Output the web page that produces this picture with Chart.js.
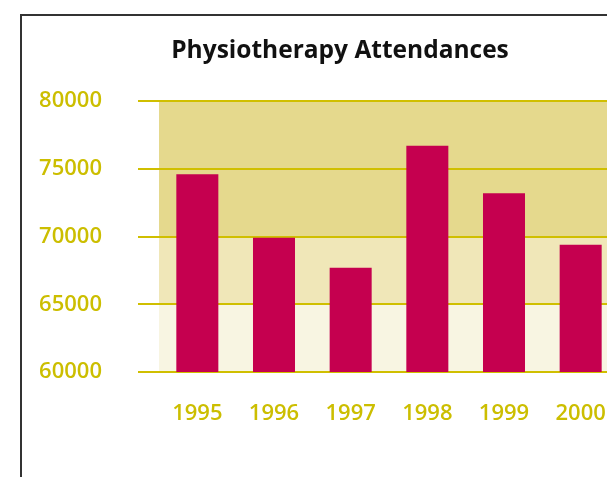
<!DOCTYPE html>
<html>
<head>
<meta charset="utf-8">
<script src="https://cdn.jsdelivr.net/npm/chart.js@4/dist/chart.umd.min.js"></script>
<style>
  html, body { margin: 0; padding: 0; background: #fff; overflow: hidden; width: 607px; height: 477px; }
  #frame { position: absolute; left: 20px; top: 14px; width: 800px; height: 600px;
           border-left: 2px solid #333; border-top: 2px solid #333; }
  #wrap { position: absolute; left: 0; top: 0; width: 640px; height: 477px; }
  #title { position: absolute; left: 0; top: 37px; width: 680px; text-align: center;
           font-family: 'Open Sans', sans-serif; font-weight: bold; font-size: 24.5px;
           line-height: 24px; color: #111; white-space: nowrap; }
</style>
</head>
<body>
<div id="frame"></div>
<div id="wrap"><canvas id="c" width="640" height="477"></canvas></div>
<div id="title">Physiotherapy Attendances</div>
<script>
const categories = ["1995", "1996", "1997", "1998", "1999", "2000"];
const attendances = [74600, 69900, 67700, 76700, 73200, 69400];
const yTicks = [60000, 65000, 70000, 75000, 80000];
const bandEdges = [60000, 65000, 70000, 80000];
const bandColors = ["#F8F5E2", "#F0E7B8", "#E5D98D"];

const gold = "#CCBE00";
const gridGold = "#D0BF00";

const bandsPlugin = {
  id: "bands",
  beforeDraw(chart) {
    const { ctx, chartArea, scales } = chart;
    const y = scales.y;
    ctx.save();
    for (let i = 0; i < bandColors.length; i++) {
      const top = y.getPixelForValue(bandEdges[i + 1]);
      const bot = y.getPixelForValue(bandEdges[i]);
      ctx.fillStyle = bandColors[i];
      ctx.fillRect(chartArea.left, top, chartArea.right - chartArea.left, bot - top);
    }
    ctx.restore();
  }
};

new Chart(document.getElementById("c"), {
  type: "bar",
  data: {
    labels: categories,
    datasets: [{
      data: attendances,
      backgroundColor: "#C5004F",
      borderWidth: 0,
      barPercentage: 0.548,
      categoryPercentage: 1.0
    }]
  },
  plugins: [bandsPlugin],
  options: {
    responsive: false,
    animation: false,
    layout: { padding: { left: 0, right: 21, top: 101, bottom: 0 } },
    plugins: {
      legend: { display: false },
      tooltip: { enabled: false },
      title: { display: false }
    },
    scales: {
      x: {
        grid: { display: false, drawTicks: false },
        border: { display: false },
        ticks: {
          color: gold,
          padding: 29,
          font: { family: "'Open Sans', sans-serif", size: 22, weight: 600 }
        },
        afterFit(scale) { scale.height = 105; }
      },
      y: {
        min: 60000,
        max: 80000,
        border: { display: false },
        grid: {
          color: gridGold,
          lineWidth: 2,
          drawTicks: true,
          tickLength: 21,
          tickColor: gridGold
        },
        afterBuildTicks(scale) { scale.ticks = yTicks.map(v => ({ value: v })); },
        ticks: {
          color: gold,
          padding: 36,
          font: { family: "'Open Sans', sans-serif", size: 22, weight: 600 },
          callback: (v) => String(v)
        },
        afterFit(scale) { scale.width = 159; }
      }
    }
  }
});
</script>
</body>
</html>
